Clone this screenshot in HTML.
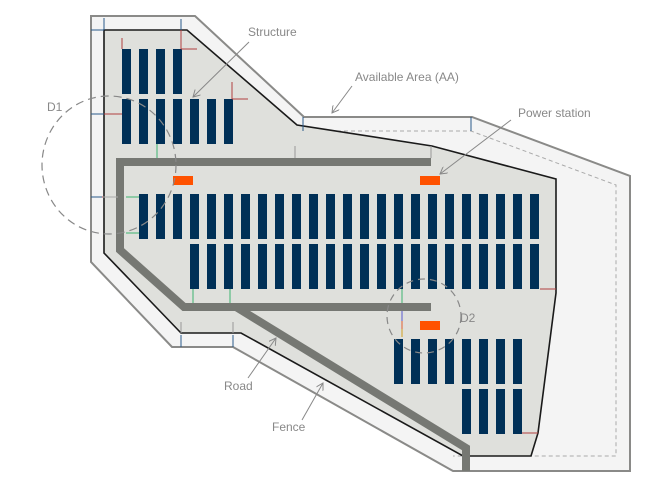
<!DOCTYPE html>
<html><head><meta charset="utf-8"><style>
html,body{margin:0;padding:0;background:#fff;}
svg{display:block;font-family:"Liberation Sans",sans-serif;}
</style></head><body>
<svg width="658" height="481" viewBox="0 0 658 481" xmlns="http://www.w3.org/2000/svg">
<defs>
<marker id="ar" markerWidth="8" markerHeight="8" refX="7" refY="4" orient="auto" markerUnits="userSpaceOnUse"><path d="M0,0 L7,4 L0,8" fill="none" stroke="#888" stroke-width="1"/></marker>
</defs>
<!-- Available area -->
<polygon points="91,16 195,16 304,117 472,117 630,176 630,471 453,471 233,347 172,347 91,262" fill="#f4f4f4" stroke="#8a8a88" stroke-width="2"/>
<polyline points="302,131 471,131 616,185 616,456 453,456" fill="none" stroke="#aaa" stroke-width="1" stroke-dasharray="4,3"/>
<!-- Fence area -->
<polygon points="104,30 187,30 297,125 432,146 556,179 556,293 538,433 531,456 463,456 241,333 181,333 104,253" fill="#dfe0dc" stroke="#1a1a1a" stroke-width="1.6"/>
<!-- Road -->
<g fill="none" stroke="#767873" stroke-width="8">
<polyline points="431,162 120,162 120,250 184,307 431,307"/>
<polyline points="236,307 466,448 466,471"/>
</g>
<!-- Panels -->
<g fill="#003057">
<rect x="122" y="49" width="9" height="45"/><rect x="139" y="49" width="9" height="45"/><rect x="156" y="49" width="9" height="45"/><rect x="173" y="49" width="9" height="45"/>
<rect x="122" y="99" width="9" height="45"/><rect x="139" y="99" width="9" height="45"/><rect x="156" y="99" width="9" height="45"/><rect x="173" y="99" width="9" height="45"/><rect x="190" y="99" width="9" height="45"/><rect x="207" y="99" width="9" height="45"/><rect x="224" y="99" width="9" height="45"/>
</g>
<g fill="#003057" id="rowA">
<rect x="139" y="194" width="9" height="45"/><rect x="156" y="194" width="9" height="45"/><rect x="173" y="194" width="9" height="45"/><rect x="190" y="194" width="9" height="45"/><rect x="207" y="194" width="9" height="45"/><rect x="224" y="194" width="9" height="45"/><rect x="241" y="194" width="9" height="45"/><rect x="258" y="194" width="9" height="45"/><rect x="275" y="194" width="9" height="45"/><rect x="292" y="194" width="9" height="45"/><rect x="309" y="194" width="9" height="45"/><rect x="326" y="194" width="9" height="45"/><rect x="343" y="194" width="9" height="45"/><rect x="360" y="194" width="9" height="45"/><rect x="377" y="194" width="9" height="45"/><rect x="394" y="194" width="9" height="45"/><rect x="411" y="194" width="9" height="45"/><rect x="428" y="194" width="9" height="45"/><rect x="445" y="194" width="9" height="45"/><rect x="462" y="194" width="9" height="45"/><rect x="479" y="194" width="9" height="45"/><rect x="496" y="194" width="9" height="45"/><rect x="513" y="194" width="9" height="45"/><rect x="530" y="194" width="9" height="45"/>
</g>
<g fill="#003057">
<rect x="190" y="244" width="9" height="45"/><rect x="207" y="244" width="9" height="45"/><rect x="224" y="244" width="9" height="45"/><rect x="241" y="244" width="9" height="45"/><rect x="258" y="244" width="9" height="45"/><rect x="275" y="244" width="9" height="45"/><rect x="292" y="244" width="9" height="45"/><rect x="309" y="244" width="9" height="45"/><rect x="326" y="244" width="9" height="45"/><rect x="343" y="244" width="9" height="45"/><rect x="360" y="244" width="9" height="45"/><rect x="377" y="244" width="9" height="45"/><rect x="394" y="244" width="9" height="45"/><rect x="411" y="244" width="9" height="45"/><rect x="428" y="244" width="9" height="45"/><rect x="445" y="244" width="9" height="45"/><rect x="462" y="244" width="9" height="45"/><rect x="479" y="244" width="9" height="45"/><rect x="496" y="244" width="9" height="45"/><rect x="513" y="244" width="9" height="45"/><rect x="530" y="244" width="9" height="45"/>
<rect x="394" y="339" width="9" height="45"/><rect x="411" y="339" width="9" height="45"/><rect x="428" y="339" width="9" height="45"/><rect x="445" y="339" width="9" height="45"/><rect x="462" y="339" width="9" height="45"/><rect x="479" y="339" width="9" height="45"/><rect x="496" y="339" width="9" height="45"/><rect x="513" y="339" width="9" height="45"/>
<rect x="462" y="389" width="9" height="45"/><rect x="479" y="389" width="9" height="45"/><rect x="496" y="389" width="9" height="45"/><rect x="513" y="389" width="9" height="45"/>
</g>
<!-- Power stations -->
<g fill="#ff5200">
<rect x="173" y="176" width="20" height="9"/><rect x="420" y="176" width="20" height="9"/><rect x="420" y="321" width="20" height="9"/>
</g>
<!-- Dimension ticks -->
<g stroke-width="1" fill="none">
<path d="M104,18 V30 M91,30 H104 M91,114 H104 M91,197 H104" stroke="#2a5a8a"/>
<path d="M104,114 H122 M122,38 V49 M102,197 H118" stroke="#b04040"/>
<path d="M103,197 H118" stroke="#aaa"/>
<path d="M181,19 V30 M303,117 V131 M471,117 V131 M181,335 V347 M233,335 V347" stroke="#2a5a8a"/>
<path d="M181,30 V49 M181,49 H197 M232,82 V99 M232,99 H248 M540,289 H556 M522,433 H538" stroke="#b04040"/>
<path d="M157,144 V158 M126,197 H139 M126,233 H139 M193,289 V303 M230,289 V303 M402,289 V303" stroke="#3cb371"/>
<path d="M295,146 V158 M431,146 V158 M181,322 V333 M233,322 V333" stroke="#999"/>
<path d="M402,311 V321" stroke="#5a5ad0"/><path d="M402,321 V329" stroke="#e06030"/><path d="M402,329 V337" stroke="#d0a020"/>
</g>
<!-- circles -->
<ellipse cx="109" cy="165" rx="67" ry="69" fill="none" stroke="#888" stroke-width="1.2" stroke-dasharray="8,5"/>
<circle cx="424" cy="316" r="37" fill="none" stroke="#888" stroke-width="1.2" stroke-dasharray="7,5"/>
<!-- Labels -->
<g fill="#888" font-size="12">
<text x="248" y="36">Structure</text>
<text x="355" y="81">Available Area (AA)</text>
<text x="518" y="117">Power station</text>
<text x="47" y="111">D1</text>
<text x="460" y="322">D2</text>
<text x="224" y="390">Road</text>
<text x="272" y="431">Fence</text>
</g>
<g stroke="#888" stroke-width="1" fill="none">
<line x1="249" y1="42" x2="193" y2="97" marker-end="url(#ar)"/>
<line x1="352" y1="86" x2="332" y2="113" marker-end="url(#ar)"/>
<line x1="511" y1="120" x2="440" y2="174" marker-end="url(#ar)"/>
<line x1="248" y1="378" x2="276" y2="338" marker-end="url(#ar)"/>
<line x1="302" y1="420" x2="323" y2="383" marker-end="url(#ar)"/>
</g>
</svg>
</body></html>
